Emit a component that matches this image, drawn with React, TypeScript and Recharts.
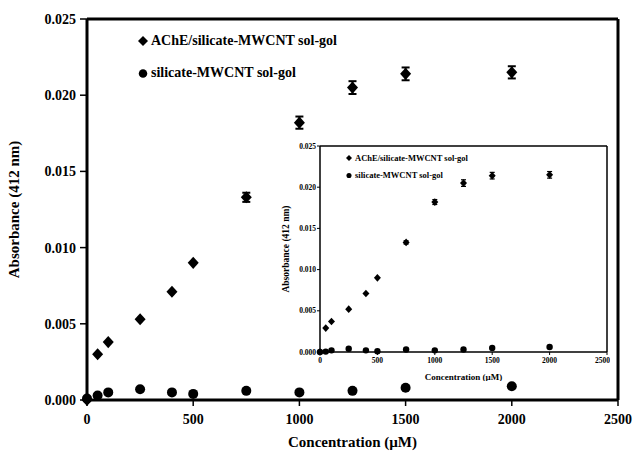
import {
  ScatterChart,
  Scatter,
  XAxis,
  YAxis,
  ErrorBar,
  ReferenceLine,
  Legend,
} from "recharts";

// concentration in uM
const concentration = [0, 50, 100, 250, 400, 500, 750, 1000, 1250, 1500, 2000];

// main plot, absorbance at 412 nm
const acheMain = [0, 0.003, 0.0038, 0.0053, 0.0071, 0.009, 0.0133, 0.0182, 0.0205, 0.0214, 0.0215];
const acheMainErr = [null, null, null, null, null, null, 0.0003, 0.0004, 0.00042, 0.00042, 0.0004];
const silicateMain = [0.0001, 0.0003, 0.0005, 0.0007, 0.0005, 0.0004, 0.0006, 0.0005, 0.0006, 0.0008, 0.0009];

// inset plot
const acheInset = [0, 0.0029, 0.0037, 0.0052, 0.0071, 0.009, 0.0133, 0.0182, 0.0205, 0.0214, 0.0215];
const acheInsetErr = [null, null, null, null, null, null, 0.0002, 0.0003, 0.0004, 0.0004, 0.0004];
const silicateInset = [0, 0.00005, 0.0002, 0.0004, 0.0002, 0.0001, 0.0003, 0.0002, 0.0003, 0.0005, 0.0006];

const yTicks = [0, 0.005, 0.01, 0.015, 0.02, 0.025];
const xTicks = [0, 500, 1000, 1500, 2000, 2500];

const acheLabel = "AChE/silicate-MWCNT sol-gol";
const silicateLabel = "silicate-MWCNT sol-gol";

const FONT = '"Liberation Serif", "Times New Roman", serif';

const rows = (ys: number[], errs?: (number | null)[]) =>
  concentration.map((x, i) => ({ x, y: ys[i], err: errs ? errs[i] : null }));

const diamond = (r: number) => (p: any) =>
  (
    <polygon
      points={`${p.cx},${p.cy - r * 1.1} ${p.cx + r},${p.cy} ${p.cx},${p.cy + r * 1.1} ${p.cx - r},${p.cy}`}
      fill="#000"
    />
  );

const dot = (r: number) => (p: any) => <circle cx={p.cx} cy={p.cy} r={r} fill="#000" />;

function LegendBox({ size, gap, r }: { size: number; gap: number; r: number }) {
  const item = (shape: "d" | "c", text: string) => (
    <div style={{ display: "flex", alignItems: "center", height: gap }}>
      <svg width={r * 2 + 2} height={r * 2 + 2} style={{ marginRight: 2 }}>
        {shape === "d" ? (
          <polygon
            points={`${r + 1},1 ${r * 2 + 1},${r + 1} ${r + 1},${r * 2 + 1} 1,${r + 1}`}
            fill="#000"
          />
        ) : (
          <circle cx={r + 1} cy={r + 1.5} r={r * 0.85} fill="#000" />
        )}
      </svg>
      <span style={{ fontFamily: FONT, fontWeight: "bold", fontSize: size, color: "#000", whiteSpace: "nowrap" }}>
        {text}
      </span>
    </div>
  );
  return (
    <div>
      {item("d", acheLabel)}
      {item("c", silicateLabel)}
    </div>
  );
}

export default function App() {
  const mainAche = rows(acheMain, acheMainErr);
  const mainSil = rows(silicateMain);
  const insAche = rows(acheInset, acheInsetErr);
  const insSil = rows(silicateInset);

  const mainTick = { fontSize: 14, fontWeight: "bold", fill: "#000", fontFamily: FONT };
  const insetTick = { fontSize: 7.5, fontWeight: "bold", fill: "#000", fontFamily: FONT };

  return (
    <div style={{ position: "absolute", left: 0, top: 0, width: 633, height: 451, background: "#fff" }}>
      <ScatterChart width={633} height={451} margin={{ top: 19, right: 15, bottom: 0, left: 0 }}>
        <XAxis
          type="number"
          dataKey="x"
          domain={[0, 2500]}
          ticks={xTicks}
          height={51}
          tick={mainTick}
          tickSize={6}
          tickMargin={8}
          axisLine={{ stroke: "#000", strokeWidth: 3 }}
          tickLine={{ stroke: "#000", strokeWidth: 1.5 }}
          label={{
            value: "Concentration (\u00b5M)",
            position: "insideBottom",
            offset: 4,
            style: { fontSize: 15, fontWeight: "bold", fill: "#000", fontFamily: FONT },
          }}
        />
        <YAxis
          type="number"
          dataKey="y"
          domain={[0, 0.025]}
          ticks={yTicks}
          width={87}
          tick={mainTick}
          tickFormatter={(v: number) => v.toFixed(3)}
          tickSize={7}
          tickMargin={4}
          axisLine={{ stroke: "#000", strokeWidth: 3 }}
          tickLine={{ stroke: "#000", strokeWidth: 1.5 }}
          label={{
            value: "Absorbance (412 nm)",
            angle: -90,
            position: "insideLeft",
            offset: 14,
            style: { textAnchor: "middle", fontSize: 15, fontWeight: "bold", fill: "#000", fontFamily: FONT },
          }}
        />
        <ReferenceLine y={0.025} stroke="#000" strokeWidth={3} />
        <ReferenceLine x={2500} stroke="#000" strokeWidth={3} />
        <Legend
          layout="horizontal"
          verticalAlign="middle"
          align="center"
          wrapperStyle={{ left: 137, top: 25, width: 300 }}
          content={() => <LegendBox size={14} gap={32} r={5} />}
        />
        <Scatter name={acheLabel} data={mainAche} shape={diamond(5.5)} isAnimationActive={false}>
          <ErrorBar dataKey="err" direction="y" width={4} stroke="#000" strokeWidth={2} />
        </Scatter>
        <Scatter name={silicateLabel} data={mainSil} shape={dot(5)} isAnimationActive={false} />
      </ScatterChart>

      <div style={{ position: "absolute", left: 265, top: 135, width: 345, height: 246 }}>
        <ScatterChart width={345} height={246} margin={{ top: 11, right: 3, bottom: 0, left: 0 }}>
          <XAxis
            type="number"
            dataKey="x"
            domain={[0, 2500]}
            ticks={xTicks}
            height={29}
            tick={insetTick}
            tickSize={3}
            tickMargin={3}
            axisLine={{ stroke: "#000", strokeWidth: 1.5 }}
            tickLine={{ stroke: "#000", strokeWidth: 1 }}
            label={{
              value: "Concentration (\u00b5M)",
              position: "insideBottom",
              offset: 1,
              style: { fontSize: 9, fontWeight: "bold", fill: "#000", fontFamily: FONT },
            }}
          />
          <YAxis
            type="number"
            dataKey="y"
            domain={[0, 0.025]}
            ticks={yTicks}
            width={55}
            tick={insetTick}
            tickFormatter={(v: number) => v.toFixed(3)}
            tickSize={3}
            tickMargin={1}
            axisLine={{ stroke: "#000", strokeWidth: 1.5 }}
            tickLine={{ stroke: "#000", strokeWidth: 1 }}
            label={{
              value: "Absorbance (412 nm)",
              angle: -90,
              position: "insideLeft",
              offset: 21,
              style: { textAnchor: "middle", fontSize: 9.5, fontWeight: "bold", fill: "#000", fontFamily: FONT },
            }}
          />
          <ReferenceLine y={0.025} stroke="#000" strokeWidth={1.5} />
          <ReferenceLine x={2500} stroke="#000" strokeWidth={1.5} />
          <Legend
            layout="horizontal"
            verticalAlign="middle"
            align="center"
            wrapperStyle={{ left: 80, top: 14, width: 200 }}
            content={() => <LegendBox size={8.5} gap={17} r={3} />}
          />
          <Scatter name={acheLabel} data={insAche} shape={diamond(3.5)} isAnimationActive={false}>
            <ErrorBar dataKey="err" direction="y" width={2.5} stroke="#000" strokeWidth={1.2} />
          </Scatter>
          <Scatter name={silicateLabel} data={insSil} shape={dot(3.2)} isAnimationActive={false} />
        </ScatterChart>
      </div>
    </div>
  );
}
